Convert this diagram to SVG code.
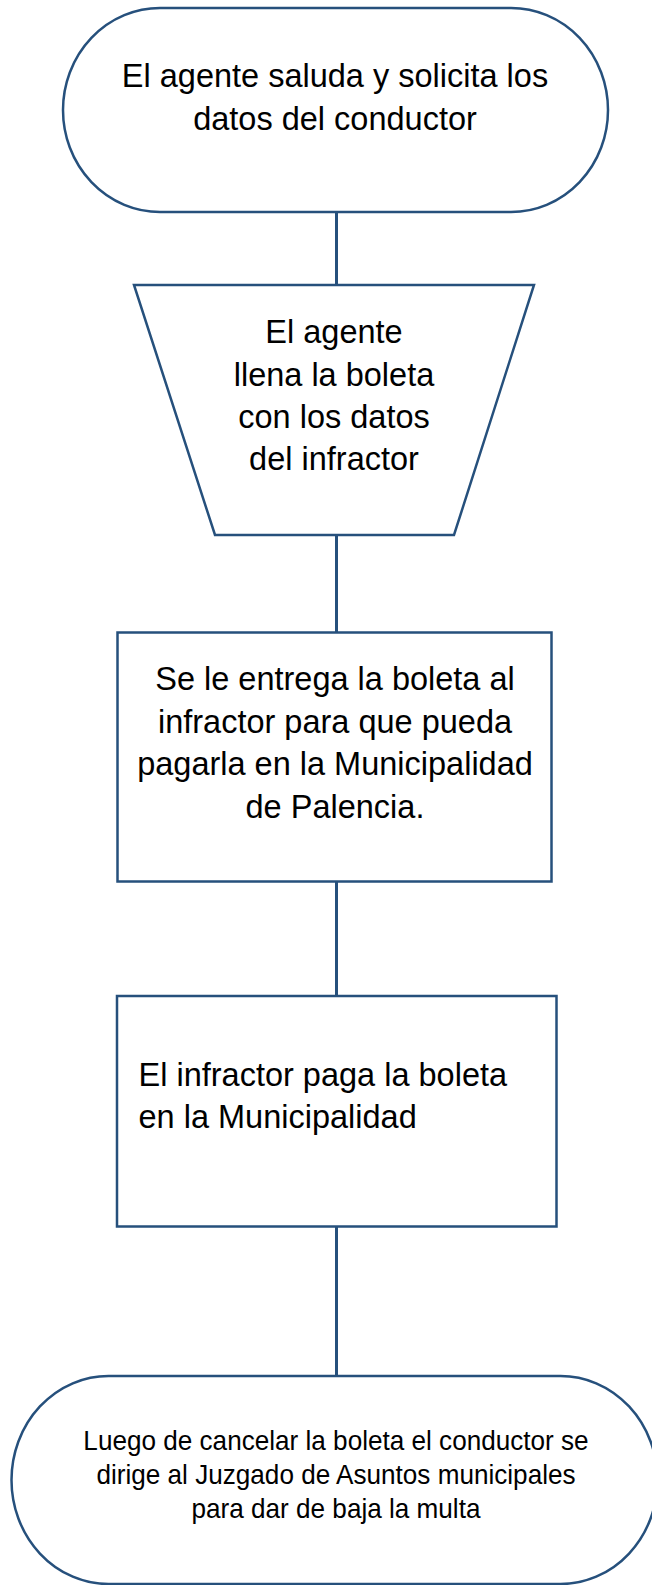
<svg xmlns="http://www.w3.org/2000/svg" width="652" height="1585" viewBox="0 0 652 1585">
<style>
.shape{fill:#ffffff;stroke:#26507c;stroke-width:2.5}
.conn{stroke:#26507c;stroke-width:3;fill:none}
.t{font-family:"Liberation Sans",Arial,sans-serif;font-size:32.5px;fill:#000000}
.ts{font-family:"Liberation Sans",Arial,sans-serif;font-size:27.5px;fill:#000000}
</style>
<rect width="652" height="1585" fill="#ffffff"/>
<g id="connectors">
<line class="conn" x1="336.5" y1="212" x2="336.5" y2="285"/>
<line class="conn" x1="336.5" y1="535" x2="336.5" y2="632.5"/>
<line class="conn" x1="336.5" y1="881.5" x2="336.5" y2="996"/>
<line class="conn" x1="336.5" y1="1226.5" x2="336.5" y2="1376"/>
</g>
<g id="n1">
<rect class="shape" x="63" y="8" width="545" height="204" rx="97" ry="102"/>
<g class="t" text-anchor="middle">
<text x="335" y="87">El agente saluda y solicita los</text>
<text x="335" y="129.5">datos del conductor</text>
</g>
</g>
<g id="n2">
<polygon class="shape" points="134,285 534,285 454,535 215,535"/>
<g class="t" text-anchor="middle">
<text x="334" y="343">El agente</text>
<text x="334" y="385.5">llena la boleta</text>
<text x="334" y="428">con los datos</text>
<text x="334" y="470">del infractor</text>
</g>
</g>
<g id="n3">
<rect class="shape" x="117.5" y="632.5" width="434" height="249"/>
<g class="t" text-anchor="middle">
<text x="335" y="690">Se le entrega la boleta al</text>
<text x="335" y="732.5">infractor para que pueda</text>
<text x="335" y="775">pagarla en la Municipalidad</text>
<text x="335" y="817.5">de Palencia.</text>
</g>
</g>
<g id="n4">
<rect class="shape" x="117" y="996" width="439.5" height="230.5"/>
<g class="t">
<text x="138.5" y="1086">El infractor paga la boleta</text>
<text x="138.5" y="1128">en la Municipalidad</text>
</g>
</g>
<g id="n5">
<rect class="shape" x="11.5" y="1376" width="646" height="208" rx="97" ry="104"/>
<g class="ts" text-anchor="middle" transform="translate(336,0) scale(0.95,1)">
<text x="0" y="1450">Luego de cancelar la boleta el conductor se</text>
<text x="0" y="1484">dirige al Juzgado de Asuntos municipales</text>
<text x="0" y="1518">para dar de baja la multa</text>
</g>
</g>
</svg>
